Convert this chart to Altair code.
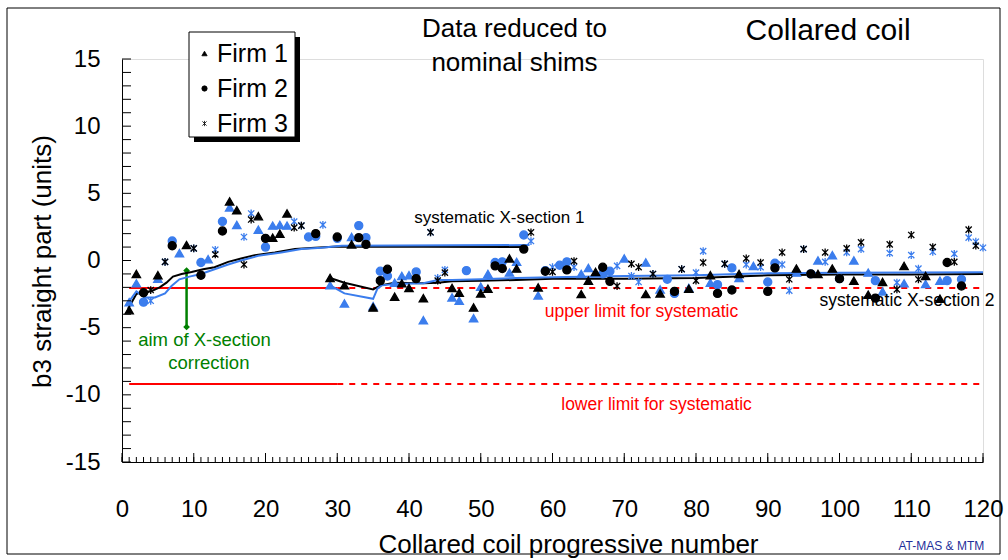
import altair as alt
import pandas as pd

FONT = "Liberation Sans"
BLUE = "#3b7ded"
GREEN = "#008000"

# ---------------- data ----------------
COILS = list(range(1, 121))
# firm of each coil: T = Firm 1 (triangle), C = Firm 2 (circle), S = Firm 3 (asterisk)
FIRM_CODES = ("TTCSTSCTTS" "CTSCTTSSTC" "TTTSSCCSTC" "TTCCTCCTTT" "CTSSSTTCTT"
              "TCCTTCSTCS" "CCSTTTCCST" "SSTSTCCSTS" "STCSCTSTSC" "CSSTSCTSTC"
              "STSTCTSSTS" "STSTCSCSSS")
FIRM_NAMES = {"T": "Firm 1", "C": "Firm 2", "S": "Firm 3"}

# black markers (as measured)
B3_MEASURED = [
    -3.7, -1.0, -2.4, -2.2, -1.1, -0.1, 1.1, None, 1.15, 0.9,
    -1.1, None, 0.45, 2.2, 4.4, 3.75, -0.3, 3.05, 3.3, 1.65,
    1.7, 2.0, 3.5, 2.45, 2.6, None, 2.0, None, -1.3, 1.75,
    -1.85, 1.2, 1.7, 1.2, -3.5, -1.5, -0.65, -2.7, -1.7, -2.05,
    -1.35, -2.8, 2.1, -1.5, -0.9, -2.05, -2.4, None, -3.5, -2.45,
    -2.1, -0.4, -0.6, 0.15, -0.6, 0.85, 2.1, -2.0, -0.8, -0.85,
    None, -0.7, -0.05, -2.5, -1.5, -0.85, -0.5, -1.55, -1.9, None,
    -0.25, -0.5, -2.5, -1.0, -2.45, None, -2.3, -0.65, -2.1, -1.5,
    -0.15, -1.1, -2.45, -0.25, -2.2, -1.0, 0.15, None, -0.15, -2.3,
    -0.55, 0.6, -1.4, -0.6, 0.85, -1.0, -1.0, 0.6, -0.6, -1.35,
    0.9, -1.5, 1.35, -2.55, -2.8, -1.6, 1.2, -2.15, -0.4, 1.9,
    -1.4, -1.15, 1.0, -2.85, -0.15, -0.1, -1.9, 2.3, 1.1, None,
]
# blue markers (reduced to nominal shims)
B3_NOMINAL = [
    -3.1, -1.7, -3.1, -3.0, -1.35, -0.1, 1.45, 0.55, None, 0.9,
    -0.15, 0.1, 0.8, 2.9, 3.95, 2.65, 1.75, 3.5, 2.3, 1.0,
    2.6, 2.65, 2.6, 2.9, 2.6, 1.75, 1.8, 2.65, -1.85, 1.65,
    -3.2, 1.75, 2.6, 1.7, -3.4, -0.8, -1.15, -1.65, -1.15, -1.1,
    -0.85, -4.45, 2.1, -1.3, -0.7, -2.75, -3.0, -0.75, -4.3, -1.95,
    -1.0, -0.15, -0.1, -0.9, -0.1, 1.9, 1.45, -2.6, -0.75, -0.5,
    -0.35, -0.1, -0.5, -1.0, -0.55, -0.95, -1.0, -0.8, -0.4, 0.15,
    -1.15, -1.6, -0.15, -1.0, -2.15, -1.4, -2.45, -0.65, -2.05, -0.9,
    0.7, -1.65, -1.8, -0.25, -0.55, -1.3, -0.3, -0.4, -0.5, -1.6,
    -0.2, -0.3, -2.25, -0.9, 0.85, -1.0, 0.0, -0.1, 0.4, -1.35,
    0.6, 0.0, 0.85, -0.9, -1.5, -2.3, 0.55, -1.65, -1.7, 0.4,
    -0.6, -1.75, 0.65, -1.5, -1.5, 0.5, -1.4, 1.7, 1.4, 0.95,
]

# running averages, systematic X-section 1
SYS1_BLACK_X = [0.85, 2, 3, 4, 5.25, 6.2, 7.1, 8.3, 9.7, 11.3, 12.9, 14.8, 16.6, 18.5, 21.3, 24.1, 26.9, 30.1, 56.2]
SYS1_BLACK_Y = [-3.6, -2.5, -2.3, -2.3, -2.0, -1.65, -1.2, -1.0, -0.85, -0.65, -0.5, -0.1, 0.15, 0.4, 0.6, 0.85, 0.95, 1.05, 1.0]
SYS1_BLUE_X = [0.85, 2, 3.2, 4.6, 6, 6.9, 8, 9.4, 11, 12.9, 14.8, 16.6, 19, 22.2, 25, 27.8, 30.6, 56.8]
SYS1_BLUE_Y = [-3.15, -2.3, -2.75, -2.75, -2.45, -1.9, -1.4, -1.2, -1.0, -0.65, -0.3, 0.0, 0.35, 0.6, 0.85, 0.95, 1.1, 1.15]
# running averages, systematic X-section 2
SYS2_BLACK_X = [29, 31, 35, 36, 38, 42, 44, 46, 50, 55, 60, 70, 80, 90, 100, 110, 120]
SYS2_BLACK_Y = [-1.3, -1.65, -2.15, -1.85, -1.65, -1.7, -1.65, -1.55, -1.5, -1.45, -1.35, -1.35, -1.3, -1.1, -1.05, -1.05, -1.0]
SYS2_BLUE_X = [29, 31, 35, 35.6, 36.2, 38, 42, 44, 46, 50, 55, 60, 70, 80, 90, 100, 110, 120]
SYS2_BLUE_Y = [-1.85, -2.45, -2.85, -2.1, -1.85, -1.75, -1.7, -1.45, -1.45, -1.4, -1.3, -1.25, -1.15, -1.1, -0.95, -0.92, -0.9, -0.88]

# limits for systematic
UPPER_LIMIT = -2.05
LOWER_LIMIT = -9.2
LIMIT_SOLID_X = [1, 30]
LIMIT_DASH_X = [30, 120]

# aim of X-section correction
AIM_X = [9, 9]
AIM_Y = [-0.75, -4.95]

FIRMS = ["Firm 1", "Firm 2", "Firm 3"]
X_LABELS = list(range(0, 121, 10))
Y_LABELS = [-15, -10, -5, 0, 5, 10, 15]
X_MINOR = list(range(0, 121))
Y_MINOR = list(range(-15, 16))

# ---------------- tables ----------------
rows = []
for series, vals in [("nominal", B3_NOMINAL), ("measured", B3_MEASURED)]:
    for c, code, v in zip(COILS, FIRM_CODES, vals):
        if v is not None:
            rows.append({"coil": c, "firm": FIRM_NAMES[code], "marker": code,
                         "series": series, "value": v})
points_df = pd.DataFrame(rows)

lrows = []
for name, series, xs, ys in [("s1b", "measured", SYS1_BLACK_X, SYS1_BLACK_Y),
                             ("s1n", "nominal", SYS1_BLUE_X, SYS1_BLUE_Y),
                             ("s2b", "measured", SYS2_BLACK_X, SYS2_BLACK_Y),
                             ("s2n", "nominal", SYS2_BLUE_X, SYS2_BLUE_Y)]:
    for i, (x, y) in enumerate(zip(xs, ys)):
        lrows.append({"line": name, "series": series, "x": x, "y": y, "ord": i})
lines_df = pd.DataFrame(lrows)

rrows = []
for lim_name, lim in [("up", UPPER_LIMIT), ("lo", LOWER_LIMIT)]:
    for style, xs in [("solid", LIMIT_SOLID_X), ("dash", LIMIT_DASH_X)]:
        for i, x in enumerate(xs):
            rrows.append({"line": lim_name + style, "style": style, "x": x, "y": lim, "ord": i})
red_df = pd.DataFrame(rrows)

aim_df = pd.DataFrame({"x": AIM_X, "y": AIM_Y})
xt_df = pd.DataFrame({"x": X_MINOR, "major": [v % 10 == 0 for v in X_MINOR]})
yt_df = pd.DataFrame({"y": Y_MINOR})
ONE = pd.DataFrame({"a": [0]})

# ---------------- scales / axes ----------------
xscale = alt.Scale(domain=[0, 120], nice=False, zero=False)
yscale = alt.Scale(domain=[-15, 15], nice=False, zero=False)
colscale = alt.Scale(domain=["measured", "nominal"], range=["black", BLUE])

xaxis = alt.Axis(values=X_LABELS, ticks=False, tickSize=0, grid=False, domainColor="black",
                 labelFont=FONT, labelFontSize=24, labelColor="black", labelPadding=35,
                 labelFlush=False, labelOverlap=False, labelExpr="'' + datum.value",
                 title="Collared coil progressive number", titleFont=FONT, titleFontSize=26,
                 titleFontWeight="normal", titleColor="black", titleX=446, titleY=82,
                 titleAlign="center", titleBaseline="middle")
yaxis = alt.Axis(values=Y_LABELS, ticks=False, tickSize=0, grid=False, domainColor="black",
                 labelFont=FONT, labelFontSize=24, labelColor="black", labelPadding=22,
                 labelFlush=False, labelOverlap=False, labelExpr="'' + datum.value",
                 title="b3 straight part (units)", titleFont=FONT, titleFontSize=26,
                 titleFontWeight="normal", titleColor="black", titleX=-80, titleY=202,
                 titleAngle=270, titleAlign="center", titleBaseline="middle")

X = lambda f: alt.X(f, scale=xscale, axis=xaxis)
Y = lambda f: alt.Y(f, scale=yscale, axis=yaxis)

ASTERISK = "M-0.8,-0.8L0.8,0.8M-0.8,0.8L0.8,-0.8M0,-1L0,1"

legend = alt.Legend(title=None, orient="none", legendX=70, legendY=-18, direction="vertical",
                    padding=0, labelFont=FONT, labelFontSize=25, labelColor="black", labelOffset=0,
                    symbolSize=28, symbolFillColor="black", symbolStrokeColor="black",
                    symbolStrokeWidth=0.8, rowPadding=9)

# ---------------- layers ----------------
frame = alt.Chart(ONE).mark_rect(fillOpacity=0, stroke="black", strokeWidth=1).encode(
    x=alt.value(-115), x2=alt.value(878), y=alt.value(-51), y2=alt.value(495))
shadow = alt.Chart(ONE).mark_rect(color="black").encode(
    x=alt.value(72), x2=alt.value(178), y=alt.value(-22), y2=alt.value(83))
legend_box = alt.Chart(ONE).mark_rect(fill="white", stroke="black", strokeWidth=1).encode(
    x=alt.value(67), x2=alt.value(173), y=alt.value(-27), y2=alt.value(78))

red = alt.Chart(red_df).mark_line(color="#ff0000", strokeWidth=2).encode(
    x=X("x:Q"), y=Y("y:Q"), detail="line:N", order="ord:Q",
    strokeDash=alt.StrokeDash("style:N", scale=alt.Scale(domain=["solid", "dash"], range=[[1, 0], [6, 6]]), legend=None))

aim_line = alt.Chart(aim_df).mark_line(color=GREEN, strokeWidth=2.5).encode(x=X("x:Q"), y=Y("y:Q"))
aim_pts = alt.Chart(aim_df).mark_point(shape="diamond", filled=True, color=GREEN, size=45, opacity=1).encode(
    x=X("x:Q"), y=Y("y:Q"))

lines = alt.Chart(lines_df).mark_line(strokeWidth=2).encode(
    x=X("x:Q"), y=Y("y:Q"), detail="line:N", order="ord:Q",
    stroke=alt.Stroke("series:N", scale=colscale, legend=None))

pts = alt.Chart(points_df).mark_point(filled=True, strokeWidth=1.3, opacity=1).encode(
    x=X("coil:Q"), y=Y("value:Q"),
    shape=alt.Shape("firm:N", scale=alt.Scale(domain=FIRMS, range=["triangle-up", "circle", ASTERISK]),
                    legend=legend),
    size=alt.Size("marker:N", scale=alt.Scale(domain=["T", "C", "S"], range=[70, 60, 120]), legend=None),
    fill=alt.Fill("series:N", scale=colscale, legend=None),
    stroke=alt.Stroke("series:N", scale=colscale, legend=None))

xt_minor = alt.Chart(xt_df).mark_rule(color="black", strokeWidth=1).encode(
    x=X("x:Q"), y=alt.value(403), y2=alt.value(398))
xt_major = alt.Chart(xt_df).transform_filter("datum.major").mark_rule(color="black", strokeWidth=1).encode(
    x=X("x:Q"), y=alt.value(403), y2=alt.value(394))
yt = alt.Chart(yt_df).mark_rule(color="black", strokeWidth=1).encode(
    y=Y("y:Q"), x=alt.value(0), x2=alt.value(9))


def note(text, x, y, size, color="black"):
    return alt.Chart(ONE).mark_text(text=text, font=FONT, fontSize=size, color=color,
                                    align="center", baseline="middle").encode(
        x=alt.XDatum(x, scale=xscale, axis=xaxis), y=alt.YDatum(y, scale=yscale, axis=yaxis))


notes = [
    note("Data reduced to", 54.7, 17.2, 26),
    note("nominal shims", 54.7, 14.67, 26),
    note("Collared coil", 98.4, 17.06, 30),
    note("systematic X-section 1", 52.6, 3.2, 17),
    note("systematic X-section 2", 109.4, -3.05, 17.5),
    note("upper limit for systematic", 72.4, -3.8, 17.5, "#ff0000"),
    note("lower limit for systematic", 74.5, -10.72, 17.5, "#ff0000"),
    note("aim of X-section", 11.5, -5.95, 18.5, GREEN),
    note("correction", 12.1, -7.65, 18.5, GREEN),
    note("AT-MAS & MTM", 114.2, -21.29, 12, "#1f2f9a"),
]

chart = alt.layer(frame, shadow, legend_box, red, aim_line, aim_pts, lines, pts,
                  xt_minor, xt_major, yt, *notes).properties(
    width=861, height=403,
    padding={"left": 122, "top": 59, "right": 25, "bottom": 98},
    autosize=alt.AutoSizeParams(type="none"),
).configure_view(strokeWidth=0).configure(font=FONT)

chart.save("out.html", embed_options={"renderer": "svg", "actions": False})
